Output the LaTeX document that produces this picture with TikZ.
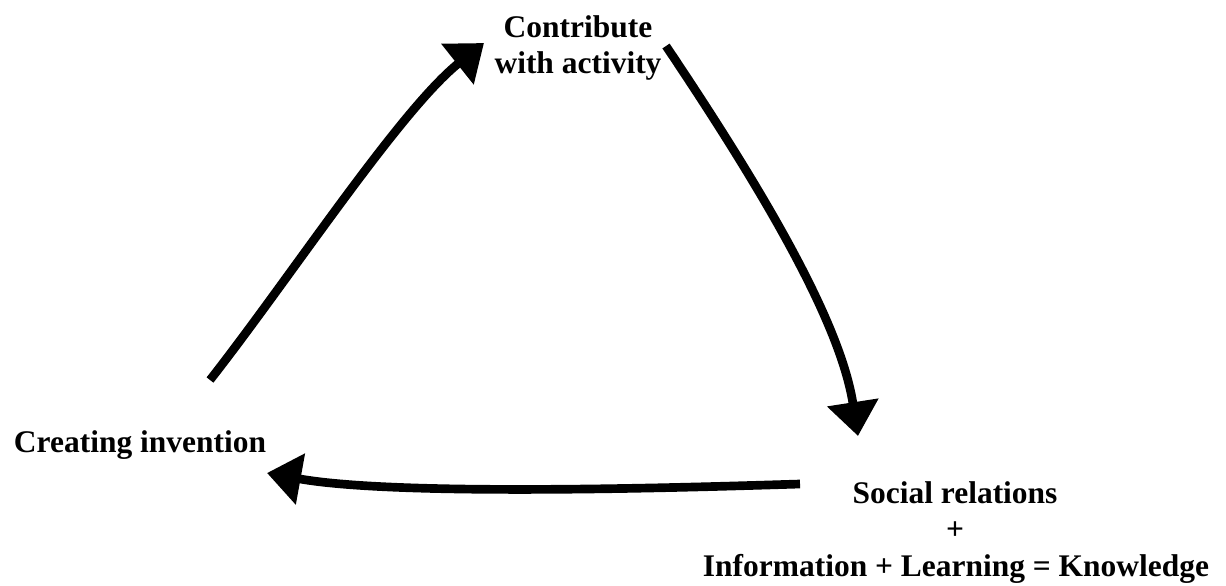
\documentclass[tikz,border=0pt]{standalone}
\usepackage{fontspec}
\setmainfont{Liberation Serif}
\usetikzlibrary{arrows.meta}
\begin{document}
\begin{tikzpicture}[x=0.75pt,y=-0.75pt,
  lbl/.style={font=\bfseries\fontsize{23.6}{27.4}\selectfont, inner sep=0pt, anchor=base},
  conn/.style={line width=6.5pt, -{Triangle[length=25.5pt,width=37.5pt]}}]
\useasboundingbox (0,0) rectangle (1226,585);
% labels
\node[lbl] (act1) at (578,37.5) {Contribute};
\node[lbl] (act2) at (578,74) {with activity};
\node[lbl] (inv) at (140,452) {Creating invention};
\node[lbl] (soc1) at (955,503) {Social relations};
\node[lbl] (soc2) at (955,539.5) {+};
\node[lbl] (soc3) at (956,576) {Information + Learning = Knowledge};
% connector ends
\coordinate (invOut) at (210,380);
\coordinate (actIn) at (484,43);
\coordinate (actOut) at (666,46);
\coordinate (socIn) at (858,436);
\coordinate (socOut) at (800,484);
\coordinate (invIn) at (267,473);
% connectors
\draw[conn] (invOut) .. controls (290,278) and (400,110) .. (actIn);
\draw[conn] (actOut) .. controls (760,186) and (840,320) .. (socIn);
\draw[conn] (socOut) .. controls (700,487) and (400,497) .. (invIn);
\end{tikzpicture}
\end{document}
